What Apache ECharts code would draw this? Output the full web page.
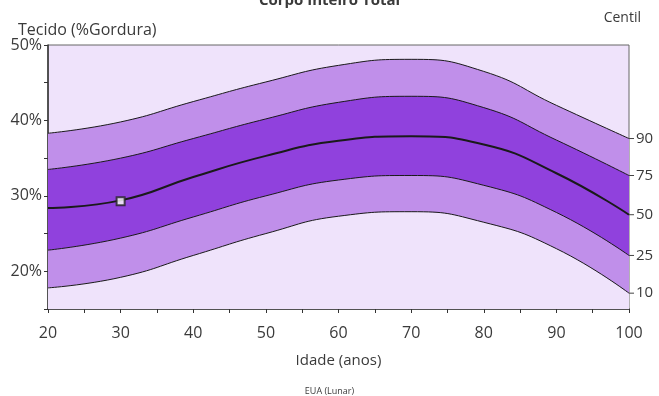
<!DOCTYPE html>
<html>
<head>
<meta charset="utf-8">
<script src="https://cdn.jsdelivr.net/npm/echarts@6/dist/echarts.min.js"></script>
<style>
  html, body { margin: 0; padding: 0; background: #ffffff; }
  #chart { width: 659px; height: 396px; }
</style>
</head>
<body>
<div id="chart"></div>
<script>
const AGES = [20, 30, 40, 50, 60, 70, 80, 90, 100];

const P10 = [17.8, 19.2, 22.1, 25.0, 27.3, 27.9, 26.5, 23.0, 17.1];
const P25 = [22.8, 24.4, 27.2, 30.0, 32.1, 32.7, 31.4, 27.8, 22.1];
const P50 = [28.4, 29.4, 32.5, 35.3, 37.3, 37.9, 36.8, 33.0, 27.5];
const P75 = [33.5, 35.0, 37.6, 40.2, 42.4, 43.2, 41.7, 37.4, 32.7];
const P90 = [38.3, 39.8, 42.5, 45.1, 47.3, 48.1, 46.5, 42.0, 37.6];

const CENTILE_LABELS = ["10", "25", "50", "75", "90"];
const PATIENT = [[30, 29.3]];

const COLORS = {
  light: "#efe3fb",
  mid: "#c08fea",
  dark: "#9041dd",
  line: "#1a1a1a",
  text: "#3a3a3a",
};

const FONT = "'Open Sans', 'DejaVu Sans', sans-serif";

const curves = [P10, P25, P50, P75, P90];
// fill below each curve down to the axis; upper curves are drawn first
const fillBelow = [COLORS.light, COLORS.mid, COLORS.dark, COLORS.dark, COLORS.mid];

const bandSeries = curves
  .map((curve, i) => ({
    name: "P" + CENTILE_LABELS[i],
    type: "line",
    smooth: 0.5,
    symbol: "none",
    silent: true,
    data: AGES.map((age, k) => [age, curve[k]]),
    lineStyle: { color: COLORS.line, width: i === 2 ? 2 : 1 },
    areaStyle: { color: fillBelow[i], opacity: 1, origin: "start" },
    endLabel: {
      show: true,
      distance: 0,
      formatter: "{t|}{v|" + CENTILE_LABELS[i] + "}",
      rich: {
        t: { width: 5, height: 1, backgroundColor: "#444" },
        v: { color: COLORS.text, fontSize: 15, fontFamily: FONT, padding: [0, 0, 0, 2] },
      },
    },
  }))
  .reverse();

const chart = echarts.init(document.getElementById("chart"), null, { renderer: "canvas" });

chart.setOption({
  backgroundColor: "#ffffff",
  animation: false,
  title: [
    {
      text: "Corpo Inteiro Total",
      left: "center",
      top: -12,
      textStyle: { color: COLORS.text, fontSize: 15, fontWeight: "bold", fontFamily: FONT },
    },
    {
      text: "Tecido (%Gordura)",
      left: 13,
      top: 17,
      textStyle: { color: COLORS.text, fontSize: 16, fontWeight: "normal", fontFamily: FONT },
    },
    {
      text: "Centil",
      right: 13,
      top: 6,
      textStyle: { color: COLORS.text, fontSize: 14, fontWeight: "normal", fontFamily: FONT },
    },
    {
      text: "EUA (Lunar)",
      left: "center",
      top: 382,
      textStyle: { color: COLORS.text, fontSize: 9, fontWeight: "normal", fontFamily: FONT },
    },
  ],
  grid: {
    left: 48,
    right: 30,
    top: 45,
    bottom: 87,
    show: true,
    backgroundColor: COLORS.light,
    borderColor: "#666",
    borderWidth: 1,
    containLabel: false,
  },
  xAxis: {
    type: "value",
    min: 20,
    max: 100,
    interval: 5,
    name: "Idade (anos)",
    nameLocation: "middle",
    nameGap: 44,
    nameTextStyle: { color: COLORS.text, fontSize: 15, fontFamily: FONT },
    axisLine: { show: true, lineStyle: { color: "#333", width: 1.5 } },
    axisTick: { show: true, length: 4, lineStyle: { color: "#333" } },
    axisLabel: {
      color: COLORS.text,
      fontSize: 16,
      fontFamily: FONT,
      margin: 16,
      formatter: (v) => (v % 10 === 0 ? String(v) : ""),
    },
    splitLine: { show: false },
  },
  yAxis: {
    type: "value",
    min: 15,
    max: 50,
    interval: 5,
    axisLine: { show: true, lineStyle: { color: "#333", width: 1.5 } },
    axisTick: { show: true, length: 4, lineStyle: { color: "#333" } },
    axisLabel: {
      color: COLORS.text,
      fontSize: 16,
      fontFamily: FONT,
      margin: 6,
      formatter: (v) => (v % 10 === 0 && v >= 20 ? v + "%" : ""),
    },
    splitLine: { show: false },
  },
  series: [
    ...bandSeries,
    {
      name: "Paciente",
      type: "scatter",
      data: PATIENT,
      symbol: "rect",
      symbolSize: 8,
      itemStyle: { color: "#ffffff", borderColor: "#222", borderWidth: 2 },
      z: 5,
    },
  ],
});
</script>
</body>
</html>
